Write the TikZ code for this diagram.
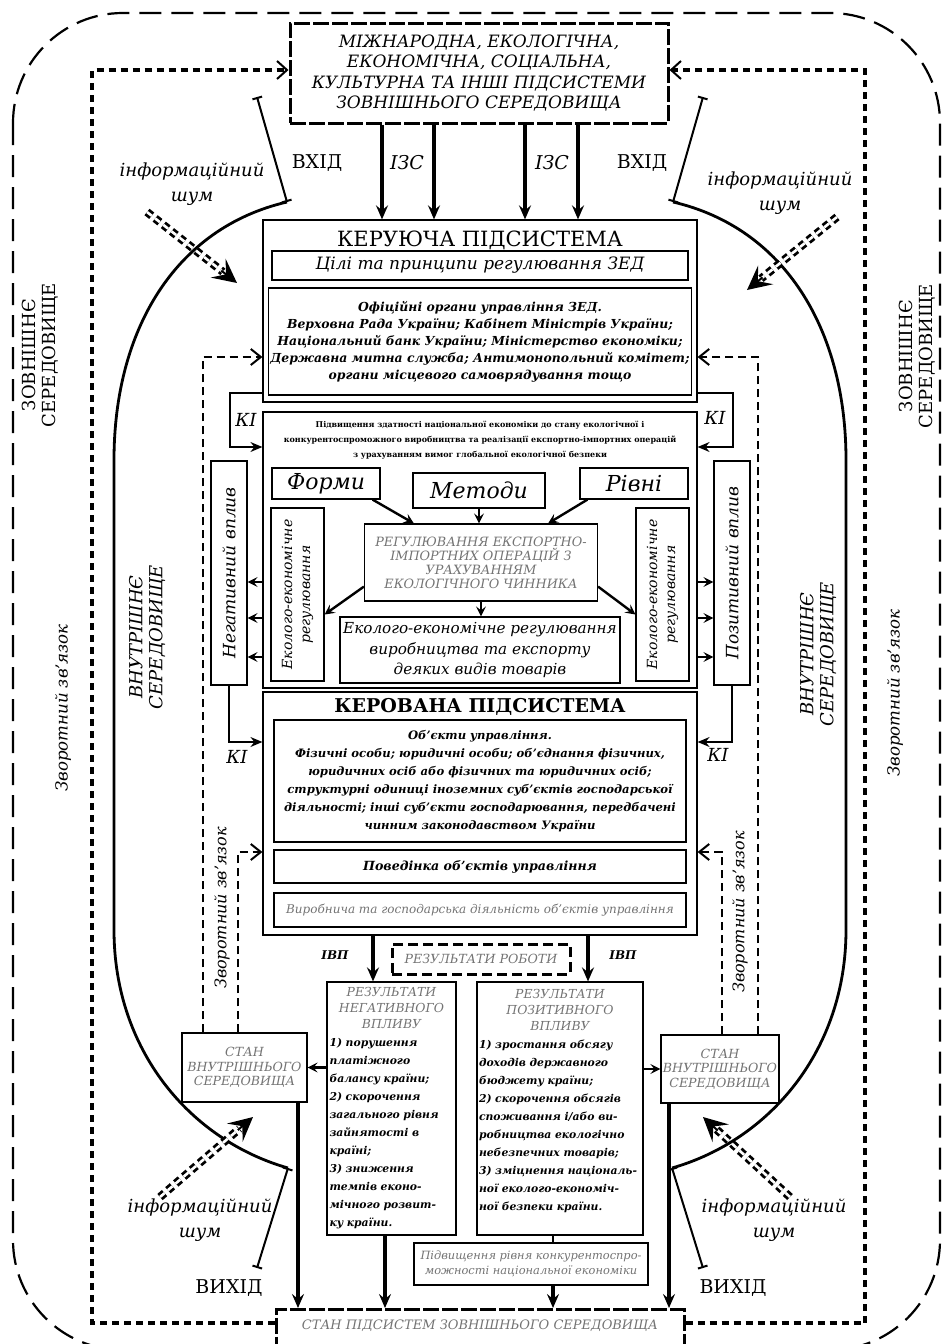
\documentclass[tikz,border=0pt]{standalone}
\usepackage{fontspec}
\setmainfont{DejaVu Serif}
\usetikzlibrary{arrows.meta,calc}
\newcommand{\fsz}[2]{\fontsize{#1pt}{#2pt}\selectfont}
\definecolor{greytext}{gray}{0.45}
\tikzset{
  box/.style={draw, line width=0.6pt, align=center, inner sep=1pt},
  sysbox/.style={draw, line width=1.5pt, dash pattern=on 8pt off 1.5pt, align=center, inner sep=1pt},
  resbox/.style={draw, line width=1.5pt, dash pattern=on 5pt off 2.5pt, align=center, inner sep=1pt},
  outerenv/.style={line width=1.1pt, dash pattern=on 11pt off 5pt},
  innerenv/.style={line width=1.6pt, dash pattern=on 3.5pt off 2.5pt, -{Straight Barb[length=5pt,width=9pt,line width=1pt]}},
  fbline/.style={line width=1.3pt, dash pattern=on 4pt off 2.5pt, -{Straight Barb[length=5pt,width=8pt,line width=1pt]}},
  bigarrow/.style={line width=1.8pt, -{Stealth[length=7pt,width=6pt,inset=2.5pt]}},
  midarrow/.style={line width=1.2pt, -{Stealth[length=5pt,width=5pt,inset=2pt]}},
  kiline/.style={line width=0.7pt, -{Stealth[length=6pt,width=5pt,inset=2pt]}},
  arcline/.style={line width=1.4pt},
  tickline/.style={line width=1pt, {Bar[width=5pt]}-{Bar[width=5pt]}},
  noise/.style={line width=1.4pt, double=white, double distance=1.3pt, dash pattern=on 3pt off 2.2pt},
  noisetip/.style={line width=1pt, -{Stealth[length=12pt,width=12pt,inset=5pt]}},
  lbl/.style={inner sep=0pt, align=center},
}

\begin{document}
\begin{tikzpicture}[x=0.5pt, y=-0.5pt]
  \useasboundingbox (0,0) rectangle (945,1344);
  % environment frames
  \draw[outerenv, rounded corners=55pt] (13,13) rectangle (940,1350); % external
  \node[lbl, rotate=90, font=\fsz{9}{10}] (extL) at (40,355) {ЗОВНІШНЄ\\СЕРЕДОВИЩЕ};
  \node[lbl, rotate=90, font=\fsz{9}{10}] (extR) at (917,356) {ЗОВНІШНЄ\\СЕРЕДОВИЩЕ};
  \node[lbl, rotate=90, font=\fsz{8.3}{10}\itshape] (fbtL) at (63,708) {Зворотний зв’язок};
  \node[lbl, rotate=90, font=\fsz{8.3}{10}\itshape] (fbtR) at (895,693) {Зворотний зв’язок};
  \node[lbl, rotate=90, font=\fsz{9}{10}\itshape] (intL) at (147,637) {ВНУТРІШНЄ\\СЕРЕДОВИЩЕ};
  \node[lbl, rotate=90, font=\fsz{9}{10}\itshape] (intR) at (818,654) {ВНУТРІШНЄ\\СЕРЕДОВИЩЕ};

  % external subsystems
  \node[sysbox, minimum width=189pt, minimum height=50pt, font=\fsz{8.5}{10.3}\itshape] (topsys) at (479,73)
    {МІЖНАРОДНА, ЕКОЛОГІЧНА,\\ЕКОНОМІЧНА, СОЦІАЛЬНА,\\КУЛЬТУРНА ТА ІНШІ ПІДСИСТЕМИ\\ЗОВНІШНЬОГО СЕРЕДОВИЩА};
  \node[sysbox, minimum width=204pt, anchor=north, text height=9pt, text depth=14pt, font=\fsz{6.5}{8}\itshape, text=greytext] (botsys) at (480,1308)
    {СТАН ПІДСИСТЕМ ЗОВНІШНЬОГО СЕРЕДОВИЩА};

  % managing subsystem
  \node[box, minimum width=217pt, minimum height=91pt] (keru) at (480,311) {};
  \node[lbl, font=\fsz{10.5}{12}] (keruT) at (480,240) {КЕРУЮЧА ПІДСИСТЕМА};
  \node[box, minimum width=208pt, minimum height=14.5pt, font=\fsz{8.5}{10}\itshape] (goals) at (480,265.5) {Цілі та принципи регулювання ЗЕД};
  \node[box, minimum width=208pt, minimum height=53.5pt, font=\fsz{6.2}{8.5}\bfseries\itshape] (organs) at (480,341.5)
    {Офіційні органи управління ЗЕД.\\Верховна Рада України; Кабінет Міністрів України;\\Національний банк України; Міністерство економіки;\\Державна митна служба; Антимонопольний комітет;\\органи місцевого самоврядування тощо};

  % regulation block
  \node[box, minimum width=217pt, minimum height=138pt] (mid) at (480,550) {};
  \node[lbl, font=\fsz{4}{7.5}\bfseries] (midT) at (480,440)
    {Підвищення здатності національної економіки до стану екологічної і\\конкурентоспроможного виробництва та реалізації експортно-імпортних операцій\\з урахуванням вимог глобальної екологічної безпеки};
  \node[box, minimum width=54pt, minimum height=15.5pt, font=\fsz{11}{12}\itshape] (forms) at (326,483.5) {Форми};
  \node[box, minimum width=66pt, minimum height=17.5pt, font=\fsz{11}{12}\itshape] (methods) at (479,490.5) {Методи};
  \node[box, minimum width=54pt, minimum height=15.5pt, font=\fsz{11}{12}\itshape] (levels) at (634,483.5) {Рівні};
  \node[box, minimum width=116.5pt, minimum height=38.5pt, font=\fsz{6.4}{7}\itshape, text=greytext] (regc) at (481,562.5)
    {РЕГУЛЮВАННЯ ЕКСПОРТНО-\\ІМПОРТНИХ ОПЕРАЦІЙ З\\УРАХУВАННЯМ\\ЕКОЛОГІЧНОГО ЧИННИКА};
  \node[box, minimum width=26.5pt, minimum height=86.5pt, font=\fsz{7}{9}\itshape] (ecoL) at (297.5,594.5)
    {\rotatebox{90}{\begin{tabular}{@{}c@{}}Еколого-економічне\\регулювання\end{tabular}}};
  \node[box, minimum width=26.5pt, minimum height=86.5pt, font=\fsz{7}{9}\itshape] (ecoR) at (662.5,594.5)
    {\rotatebox{90}{\begin{tabular}{@{}c@{}}Еколого-економічне\\регулювання\end{tabular}}};
  \node[box, minimum width=140pt, minimum height=33pt, font=\fsz{7.6}{10.3}\itshape] (ecoB) at (480,650)
    {Еколого-економічне регулювання\\виробництва та експорту\\деяких видів товарів};
  \node[box, minimum width=18pt, minimum height=112pt, font=\fsz{8.5}{10}\itshape] (neg) at (229,573) {\rotatebox{90}{Негативний вплив}};
  \node[box, minimum width=18pt, minimum height=112pt, font=\fsz{8.5}{10}\itshape] (pos) at (732,573) {\rotatebox{90}{Позитивний вплив}};

  % managed subsystem
  \node[box, minimum width=217pt, minimum height=121.5pt] (kerov) at (480,813.5) {};
  \node[lbl, font=\fsz{9.5}{11}\bfseries] (kerovT) at (480,707) {КЕРОВАНА ПІДСИСТЕМА};
  \node[box, minimum width=206pt, minimum height=61pt, font=\fsz{5.8}{9}\bfseries\itshape] (objects) at (480,781)
    {Об’єкти управління.\\Фізичні особи; юридичні особи; об’єднання фізичних,\\юридичних осіб або фізичних та юридичних осіб;\\структурні одиниці іноземних суб’єктів господарської\\діяльності; інші суб’єкти господарювання, передбачені\\чинним законодавством України};
  \node[box, minimum width=206pt, minimum height=16.5pt, font=\fsz{6.3}{8}\bfseries\itshape] (behav) at (480,866.5) {Поведінка об’єктів управління};
  \node[box, minimum width=206pt, minimum height=17pt, font=\fsz{6}{8}\itshape, text=greytext] (prod) at (480,910) {Виробнича та господарська діяльність об’єктів управління};

  % results
  \node[resbox, minimum width=89pt, minimum height=15pt, font=\fsz{6.3}{8}\itshape, text=greytext] (result) at (481,959) {РЕЗУЛЬТАТИ РОБОТИ};
  \node[box, minimum width=64.5pt, minimum height=126.5pt, text width=62pt, font=\fsz{5.4}{9}\bfseries\itshape] (negres) at (391.5,1108.5)
    {{\centering\color{greytext}\fsz{6.2}{8}\mdseries РЕЗУЛЬТАТИ\\НЕГАТИВНОГО\\ВПЛИВУ\par}\raggedright
     1) порушення\\платіжного\\балансу країни;\\2) скорочення\\загального рівня\\зайнятості в\\країні;\\3) зниження\\темпів еконо-\\мічного розвит-\\ку країни.\par};
  \node[box, minimum width=83pt, minimum height=126.5pt, text width=81pt, font=\fsz{5.4}{9}\bfseries\itshape] (posres) at (560,1108.5)
    {{\centering\color{greytext}\fsz{6.2}{8}\mdseries РЕЗУЛЬТАТИ\\ПОЗИТИВНОГО\\ВПЛИВУ\par}\raggedright
     1) зростання обсягу\\доходів державного\\бюджету країни;\\2) скорочення обсягів\\споживання і/або ви-\\робництва екологічно\\небезпечних товарів;\\3) зміцнення національ-\\ної еколого-економіч-\\ної безпеки країни.\\\mbox{}\par};
  \node[box, minimum width=62.5pt, minimum height=34.5pt, font=\fsz{6.3}{7.3}\itshape, text=greytext] (stL) at (244.5,1067.5) {СТАН\\ВНУТРІШНЬОГО\\СЕРЕДОВИЩА};
  \node[box, minimum width=57pt, minimum height=34pt, font=\fsz{6.3}{7.3}\itshape, text=greytext] (stR) at (720,1069) {СТАН\\ВНУТРІШНЬОГО\\СЕРЕДОВИЩА};
  \node[box, minimum width=117pt, minimum height=21pt, font=\fsz{5.7}{7.5}\itshape, text=greytext] (compet) at (531,1264)
    {Підвищення рівня конкурентоспро-\\можності національної економіки};

  % boundary of the internal environment
  \coordinate (ebL) at (92,1323); \coordinate (etL) at (92,70);
  \coordinate (ebR) at (865,1323); \coordinate (etR) at (865,70);
  \draw[innerenv] (ebL -| botsys.west) -- (ebL) -- (etL) -- (etL -| topsys.west);
  \draw[innerenv] (ebR -| botsys.east) -- (ebR) -- (etR) -- (etR -| topsys.east);

  % system border arcs
  \coordinate (aTL) at (287,202); \coordinate (aBL) at (288,1168);
  \coordinate (aTR) at (673,202); \coordinate (aBR) at (672,1168);
  \draw[arcline] (aTL) .. controls (175,228) and (114,330) .. (114,460) -- (114,930) .. controls (114,1050) and (190,1140) .. (aBL);
  \draw[arcline] (aTR) .. controls (785,228) and (846,330) .. (846,460) -- (846,930) .. controls (846,1050) and (770,1140) .. (aBR);
  \coordinate (vL) at (257,97); \coordinate (vR) at (703,97);
  \coordinate (oL) at (257,1268); \coordinate (oR) at (703,1268);
  \draw[tickline] (vL) -- (aTL); % input
  \draw[tickline] (vR) -- (aTR);
  \draw[tickline] (aBL) -- (oL); % output
  \draw[tickline] (aBR) -- (oR);
  \node[lbl, font=\fsz{9.5}{11}] (inL) at (317,163) {ВХІД};
  \node[lbl, font=\fsz{9.5}{11}] (inR) at (642,163) {ВХІД};
  \node[lbl, font=\fsz{9.5}{11}] (outL) at (229,1288) {ВИХІД};
  \node[lbl, font=\fsz{9.5}{11}] (outR) at (733,1288) {ВИХІД};

  % information noise
  \coordinate (nzS1) at (147,212); \coordinate (nzT1) at (237,283);
  \coordinate (nzS2) at (837,217); \coordinate (nzT2) at (747,290);
  \coordinate (nzS3) at (160,1197); \coordinate (nzT3) at (253,1117);
  \coordinate (nzS4) at (790,1197); \coordinate (nzT4) at (703,1117);
  \foreach \i in {1,...,4} {
    \draw[noise] (nzS\i) -- ($(nzT\i)!9pt!(nzS\i)$);
    \draw[noisetip] ($(nzT\i)!10pt!(nzS\i)$) -- (nzT\i);
  }
  \node[lbl, font=\fsz{9}{12.5}\itshape] (nzL1) at (192,184) {інформаційний\\шум};
  \node[lbl, font=\fsz{9}{12.5}\itshape] (nzL2) at (780,193) {інформаційний\\шум};
  \node[lbl, font=\fsz{9}{12.5}\itshape] (nzL3) at (200,1220) {інформаційний\\шум};
  \node[lbl, font=\fsz{9}{12.5}\itshape] (nzL4) at (774,1220) {інформаційний\\шум};

  % ІЗС arrows
  \foreach \x [count=\i] in {382,434,525,578} {
    \coordinate (izs\i) at (\x,0);
    \draw[bigarrow] (topsys.south -| izs\i) -- (keru.north -| izs\i);
  }
  \node[lbl, font=\fsz{9.5}{11}\itshape] (izsL) at (407,163) {ІЗС};
  \node[lbl, font=\fsz{9.5}{11}\itshape] (izsR) at (552,163) {ІЗС};

  % feedback
  \coordinate (fbL1) at (203,357); \coordinate (fbL2) at (238,852);
  \coordinate (fbR1) at (758,357); \coordinate (fbR2) at (722,852);
  \draw[fbline] (stL.north -| fbL1) -- (fbL1) -- (fbL1 -| keru.west);
  \draw[fbline] (stL.north -| fbL2) -- (fbL2) -- (fbL2 -| kerov.west);
  \draw[fbline] (stR.north -| fbR1) -- (fbR1) -- (fbR1 -| keru.east);
  \draw[fbline] (stR.north -| fbR2) -- (fbR2) -- (fbR2 -| kerov.east);
  \node[lbl, rotate=90, font=\fsz{8}{10}\itshape] (fbtL2) at (222,908) {Зворотний зв’язок};
  \node[lbl, rotate=90, font=\fsz{8}{10}\itshape] (fbtR2) at (740,912) {Зворотний зв’язок};

  % КІ links
  \coordinate (kiTL) at (230,393); \coordinate (kiTL2) at (230,447);
  \coordinate (kiTR) at (733,393); \coordinate (kiTR2) at (733,447);
  \coordinate (kiB) at (0,742);
  \draw[kiline] (kiTL -| keru.west) -- (kiTL) -- (kiTL2) -- (kiTL2 -| mid.west);
  \draw[kiline] (kiTR -| keru.east) -- (kiTR) -- (kiTR2) -- (kiTR2 -| mid.east);
  \draw[kiline] (neg.south) |- (kiB -| kerov.west);
  \draw[kiline] (pos.south) |- (kiB -| kerov.east);
  \node[lbl, font=\fsz{9}{10}\itshape] (kiL1) at (246,420) {КІ};
  \node[lbl, font=\fsz{9}{10}\itshape] (kiR1) at (715,418) {КІ};
  \node[lbl, font=\fsz{9}{10}\itshape] (kiL2) at (237,757) {КІ};
  \node[lbl, font=\fsz{9}{10}\itshape] (kiR2) at (718,755) {КІ};

  % influence arrows
  \foreach \y [count=\i] in {582,618,657} {
    \coordinate (inf\i) at (0,\y);
    \draw[midarrow] (inf\i -| mid.west) -- (inf\i -| neg.east);
    \draw[midarrow] (inf\i -| mid.east) -- (inf\i -| pos.west);
  }

  % inside the regulation block
  \draw[midarrow] ([xshift=-4pt]forms.south east) -- ([xshift=25pt]regc.north west);
  \draw[midarrow] (methods.south) -- (regc.north -| methods.south);
  \draw[midarrow] ([xshift=4pt]levels.south west) -- ([xshift=-25pt]regc.north east);
  \draw[midarrow] ([yshift=7.5pt]regc.south west) -- ([yshift=-10pt]ecoL.east);
  \draw[midarrow] ([yshift=7.5pt]regc.south east) -- ([yshift=-10pt]ecoR.west);
  \draw[midarrow] (regc.south) -- (ecoB.north -| regc.south);

  % outputs
  \coordinate (ivL) at (373,0); \coordinate (ivR) at (588,0);
  \draw[bigarrow] (kerov.south -| ivL) -- (negres.north -| ivL);
  \draw[bigarrow] (kerov.south -| ivR) -- (posres.north -| ivR);
  \node[lbl, font=\fsz{6}{7}\bfseries\itshape] (ivpL) at (335,955) {ІВП};
  \node[lbl, font=\fsz{6}{7}\bfseries\itshape] (ivpR) at (623,955) {ІВП};
  \draw[midarrow] (negres.west |- stL.east) -- (stL.east);
  \draw[midarrow] (posres.east |- stR.west) -- (stR.west);
  \coordinate (dL) at (298,0); \coordinate (dN) at (385,0);
  \coordinate (dC) at (553,0); \coordinate (dR) at (669,0);
  \draw[bigarrow] (stL.south -| dL) -- (botsys.north -| dL);
  \draw[bigarrow] (negres.south -| dN) -- (botsys.north -| dN);
  \draw[line width=1.2pt] (posres.south -| dC) -- (compet.north -| dC);
  \draw[bigarrow] (compet.south -| dC) -- (botsys.north -| dC);
  \draw[bigarrow] (stR.south -| dR) -- (botsys.north -| dR);
\end{tikzpicture}
\end{document}
